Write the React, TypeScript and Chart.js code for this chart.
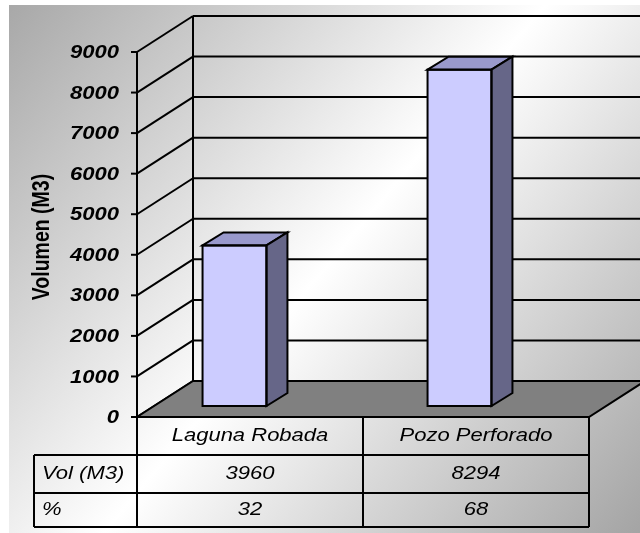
import { useEffect, useRef } from "react";
import { Chart, registerables } from "chart.js";

Chart.register(...registerables);

// Data
const categories = ["Laguna Robada", "Pozo Perforado"];
const volumes = [3960, 8294];
const percents = [32, 68];
const yTicks = [0, 1000, 2000, 3000, 4000, 5000, 6000, 7000, 8000, 9000];
const rowLabels = ["Vol (M3)", "%"];
const yTitle = "Volumen (M3)";

const FONT = '"Liberation Sans", Arial, sans-serif';
const STRETCH = 1.19;

// Text is widened horizontally around its anchor point
function drawText(
  ctx: CanvasRenderingContext2D,
  text: string,
  x: number,
  y: number,
  font: string,
  align: CanvasTextAlign,
  rotate = false
) {
  ctx.save();
  ctx.translate(x, y);
  ctx.scale(STRETCH, 1);
  if (rotate) ctx.rotate(-Math.PI / 2);
  ctx.font = font;
  ctx.textAlign = align;
  ctx.textBaseline = "middle";
  ctx.fillStyle = "#000";
  ctx.fillText(text, 0, 0);
  ctx.restore();
}

function line(ctx: CanvasRenderingContext2D, x1: number, y1: number, x2: number, y2: number) {
  ctx.beginPath();
  ctx.moveTo(x1, y1);
  ctx.lineTo(x2, y2);
  ctx.stroke();
}

function poly(ctx: CanvasRenderingContext2D, pts: number[][], fill: string) {
  ctx.beginPath();
  ctx.moveTo(pts[0][0], pts[0][1]);
  for (let i = 1; i < pts.length; i++) ctx.lineTo(pts[i][0], pts[i][1]);
  ctx.closePath();
  ctx.fillStyle = fill;
  ctx.fill();
  ctx.stroke();
}

// Oblique depth of the plot box and of the bars
const DEPTH_X = 56;
const DEPTH_Y = -36;
const BAR_DX = 21;
const BAR_DY = -13;

function geometry(chart: any) {
  const ca = chart.chartArea;
  const ys = chart.scales.y;
  const fx0 = ca.left + 15;
  const fx1 = ca.right + 17;
  const fy = (v: number) => ys.getPixelForValue(v) + 11;
  return { ca, fx0, fx1, fy };
}

const box3d = {
  id: "box3d",
  beforeDatasetsDraw(chart: any) {
    const ctx: CanvasRenderingContext2D = chart.ctx;
    const { fx0, fx1, fy } = geometry(chart);
    const W = chart.width;
    const H = chart.height;
    ctx.save();

    // background
    const g = ctx.createLinearGradient(9, 5, W, H);
    g.addColorStop(0, "#a8a8a8");
    g.addColorStop(0.5, "#ffffff");
    g.addColorStop(1, "#a4a4a4");
    ctx.fillStyle = g;
    ctx.fillRect(9, 5, W - 9, H - 5);

    ctx.strokeStyle = "#000";
    ctx.lineWidth = 2;
    ctx.lineCap = "butt";

    const top = yTicks[yTicks.length - 1];
    // back wall gridlines
    yTicks.forEach((v) => {
      line(ctx, fx0 + DEPTH_X, fy(v) + DEPTH_Y, fx1 + DEPTH_X, fy(v) + DEPTH_Y);
    });
    line(ctx, fx0 + DEPTH_X, fy(top) + DEPTH_Y, fx0 + DEPTH_X, fy(0) + DEPTH_Y);
    // side wall gridlines
    yTicks.forEach((v) => {
      line(ctx, fx0, fy(v), fx0 + DEPTH_X, fy(v) + DEPTH_Y);
    });

    // floor
    const f0 = fy(0);
    poly(
      ctx,
      [
        [fx0, f0],
        [fx1, f0],
        [fx1 + DEPTH_X, f0 + DEPTH_Y],
        [fx0 + DEPTH_X, f0 + DEPTH_Y],
      ],
      "#808080"
    );

    // front value axis with tick marks and labels
    line(ctx, fx0, fy(top), fx0, f0);
    yTicks.forEach((v) => {
      line(ctx, fx0 - 6, fy(v), fx0, fy(v));
      drawText(ctx, String(v), fx0 - 18, fy(v) + 1, `bold italic 18.5px ${FONT}`, "right");
    });

    // axis title
    drawText(ctx, yTitle, 43, 237, `bold 19.5px ${FONT}`, "center", true);
    ctx.restore();
  },
  afterDatasetsDraw(chart: any) {
    const ctx: CanvasRenderingContext2D = chart.ctx;
    const meta = chart.getDatasetMeta(0);
    ctx.save();
    ctx.strokeStyle = "#000";
    ctx.lineWidth = 2;
    ctx.lineJoin = "miter";
    meta.data.forEach((el: any) => {
      const { x, y, base, width } = el.getProps(["x", "y", "base", "width"], true);
      const l = x - width / 2;
      const r = x + width / 2;
      poly(ctx, [[l, y], [l + BAR_DX, y + BAR_DY], [r + BAR_DX, y + BAR_DY], [r, y]], "#9999cc");
      poly(ctx, [[r, y], [r + BAR_DX, y + BAR_DY], [r + BAR_DX, base + BAR_DY], [r, base]], "#666688");
      ctx.strokeRect(l, y, width, base - y);
    });
    ctx.restore();
  },
  afterDraw(chart: any) {
    const ctx: CanvasRenderingContext2D = chart.ctx;
    const { fx0, fx1, fy } = geometry(chart);
    const t0 = fy(0);
    const rows = [t0, t0 + 38, t0 + 76, t0 + 110];
    const tableLeft = 34;
    const colW = (fx1 - fx0) / categories.length;
    ctx.save();
    ctx.strokeStyle = "#000";
    ctx.lineWidth = 2;
    for (let i = 1; i < rows.length; i++) line(ctx, tableLeft, rows[i], fx1, rows[i]);
    line(ctx, tableLeft, rows[1], tableLeft, rows[3]);
    for (let i = 0; i <= categories.length; i++) {
      line(ctx, fx0 + i * colW, rows[0], fx0 + i * colW, rows[3]);
    }
    const font = `italic 18.5px ${FONT}`;
    categories.forEach((c, i) => {
      const cx = fx0 + (i + 0.5) * colW;
      drawText(ctx, c, cx, (rows[0] + rows[1]) / 2, font, "center");
      drawText(ctx, String(volumes[i]), cx, (rows[1] + rows[2]) / 2, font, "center");
      drawText(ctx, String(percents[i]), cx, (rows[2] + rows[3]) / 2, font, "center");
    });
    drawText(ctx, rowLabels[0], 42, (rows[1] + rows[2]) / 2, font, "left");
    drawText(ctx, rowLabels[1], 42, (rows[2] + rows[3]) / 2, font, "left");
    ctx.restore();
  },
};

export default function App() {
  const canvasRef = useRef<HTMLCanvasElement | null>(null);

  useEffect(() => {
    const canvas = canvasRef.current;
    if (!canvas) return;
    const chart = new Chart(canvas, {
      type: "bar",
      data: {
        labels: categories,
        datasets: [
          {
            label: "Vol (M3)",
            data: volumes,
            backgroundColor: "#ccccff",
            borderWidth: 0,
            categoryPercentage: 1,
            barPercentage: 0.284,
          },
        ],
      },
      options: {
        responsive: false,
        animation: false,
        devicePixelRatio: 1,
        layout: { padding: { left: 122, right: 68, top: 41, bottom: 127 } },
        plugins: { legend: { display: false }, tooltip: { enabled: false } },
        scales: {
          x: { display: false },
          y: { display: false, min: 0, max: 9000 },
        },
      },
      plugins: [box3d],
    });
    return () => chart.destroy();
  }, []);

  return (
    <div style={{ position: "absolute", left: 0, top: 0, width: 640, height: 533 }}>
      <canvas ref={canvasRef} width={640} height={533} style={{ display: "block" }} />
    </div>
  );
}
